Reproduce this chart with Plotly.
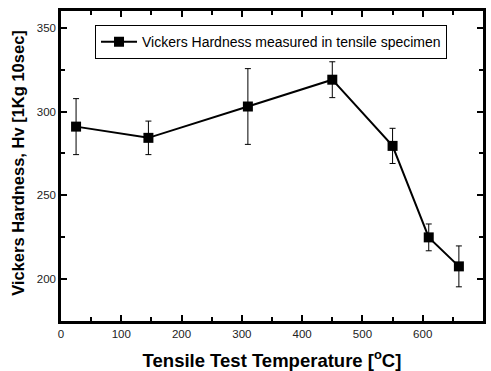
import plotly.graph_objects as go

temperature = [25, 145, 310, 450, 550, 610, 660]
hardness = [291, 284.3, 303, 319, 279.5, 224.9, 207.6]
hardness_err = [16.7, 10, 22.6, 10.7, 10.5, 8, 12.2]
x_ticks = [0, 100, 200, 300, 400, 500, 600, 700]
y_ticks = [200, 250, 300, 350]

FONT = "Arial, Liberation Sans, sans-serif"

fig = go.Figure()
fig.add_trace(go.Scatter(
    x=temperature, y=hardness,
    mode="lines+markers",
    name="Vickers Hardness measured in tensile specimen",
    line=dict(color="black", width=2),
    marker=dict(symbol="square", size=10, color="black"),
    error_y=dict(type="data", array=hardness_err, visible=True,
                 color="black", thickness=1, width=3),
))

axis_common = dict(
    showline=True, linecolor="black", linewidth=2.5, mirror="ticks",
    ticks="inside", ticklen=6, tickwidth=2, tickcolor="black",
    showgrid=False, zeroline=False, automargin=False,
    tickfont=dict(family=FONT, size=11.5, color="#222"),
)

fig.update_xaxes(
    range=[0, 700], tickvals=x_ticks,
    minor=dict(dtick=50, ticks="inside", ticklen=4, tickwidth=2, tickcolor="black"),
    title=dict(text="<b>Tensile Test Temperature [<sup>o</sup>C]</b>",
               font=dict(family=FONT, size=18.5, color="black"),
               standoff=17),
    **axis_common,
)
fig.update_yaxes(
    range=[175, 360], tickvals=y_ticks,
    minor=dict(dtick=25, ticks="inside", ticklen=4, tickwidth=2, tickcolor="black"),
    **axis_common,
)

fig.add_annotation(
    text="<b>Vickers Hardness, Hv [1Kg 10sec]</b>",
    xref="paper", yref="paper", x=-0.102, y=0.51,
    xanchor="center", yanchor="middle", textangle=-90, showarrow=False,
    font=dict(family=FONT, size=16.5, color="black"),
)

fig.update_layout(
    width=491, height=371,
    margin=dict(l=61, r=8, t=11, b=50, autoexpand=False),
    plot_bgcolor="white", paper_bgcolor="white",
    showlegend=True,
    legend=dict(x=0.0806, y=0.954, xanchor="left", yanchor="top",
                bordercolor="black", borderwidth=1, bgcolor="white",
                font=dict(family=FONT, size=14, color="black"),
                itemwidth=36, tracegroupgap=0),
    font=dict(family=FONT),
)

fig.write_html("out.html")
